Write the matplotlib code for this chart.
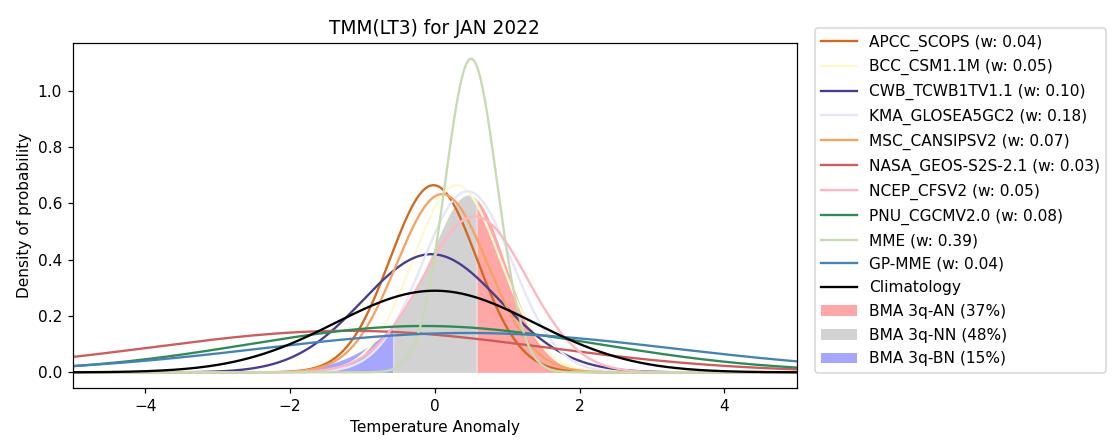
import numpy as np
import matplotlib
matplotlib.use("Agg")
import matplotlib.pyplot as plt

# modelos: nombre, peso, media y desviación de cada pdf
modelos = ["APCC_SCOPS", "BCC_CSM1.1M", "CWB_TCWB1TV1.1", "KMA_GLOSEA5GC2",
           "MSC_CANSIPSV2", "NASA_GEOS-S2S-2.1", "NCEP_CFSV2", "PNU_CGCMV2.0",
           "MME", "GP-MME"]
pesos = [0.04, 0.05, 0.10, 0.18, 0.07, 0.03, 0.05, 0.08, 0.39, 0.04]
medias = [-0.02, 0.30, -0.05, 0.45, 0.10, -1.20, 0.55, -0.15, 0.50, 0.45]
desvs = [0.60, 0.60, 0.95, 0.62, 0.63, 2.70, 0.72, 2.42, 0.358, 2.85]
colores = ["chocolate", "lemonchiffon", "darkslateblue", "lavender",
           "sandybrown", "indianred", "lightpink", "seagreen",
           "#c5dbb0", "steelblue"]

clim_media, clim_desv = 0.0, 1.375

# pdf BMA (dos componentes)
bma_pesos = [0.60, 0.32]
bma_medias = [0.52, -0.05]
bma_desvs = [0.48, 0.75]
lim_bn, lim_an = -0.58, 0.58
prob_an, prob_nn, prob_bn = 37, 48, 15


def pdf(x, m, s):
    return np.exp(-0.5 * ((x - m) / s) ** 2) / (s * np.sqrt(2 * np.pi))


x = np.linspace(-5, 5, 1001)

fig = plt.figure(figsize=(10.0, 3.966), dpi=111.2)
ax = fig.add_axes([0.0656, 0.12, 0.651, 0.7825])

for nombre, w, m, s, c in zip(modelos, pesos, medias, desvs, colores):
    ax.plot(x, pdf(x, m, s), color=c, lw=1.5, label=f"{nombre} (w: {w:.2f})")

ax.plot(x, pdf(x, clim_media, clim_desv), color="black", lw=1.5, label="Climatology")

bma = sum(w * pdf(x, m, s) for w, m, s in zip(bma_pesos, bma_medias, bma_desvs))
ax.fill_between(x, 0, bma, where=x >= lim_an, color="red", alpha=0.35, lw=0,
                label=f"BMA 3q-AN ({prob_an}%)", zorder=0)
ax.fill_between(x, 0, bma, where=(x >= lim_bn) & (x <= lim_an), color="gray", alpha=0.35,
                lw=0, label=f"BMA 3q-NN ({prob_nn}%)", zorder=0)
ax.fill_between(x, 0, bma, where=x <= lim_bn, color="blue", alpha=0.35, lw=0,
                label=f"BMA 3q-BN ({prob_bn}%)", zorder=0)

ax.set_xlim(-5, 5)
ax.set_title("TMM(LT3) for JAN 2022")
ax.set_xlabel("Temperature Anomaly")
ax.set_ylabel("Density of probability")
ax.legend(loc="upper left", bbox_to_anchor=(1.025, 1.043), borderaxespad=0,
          labelspacing=0.56, handlelength=2.3)

fig.savefig("out.png")
